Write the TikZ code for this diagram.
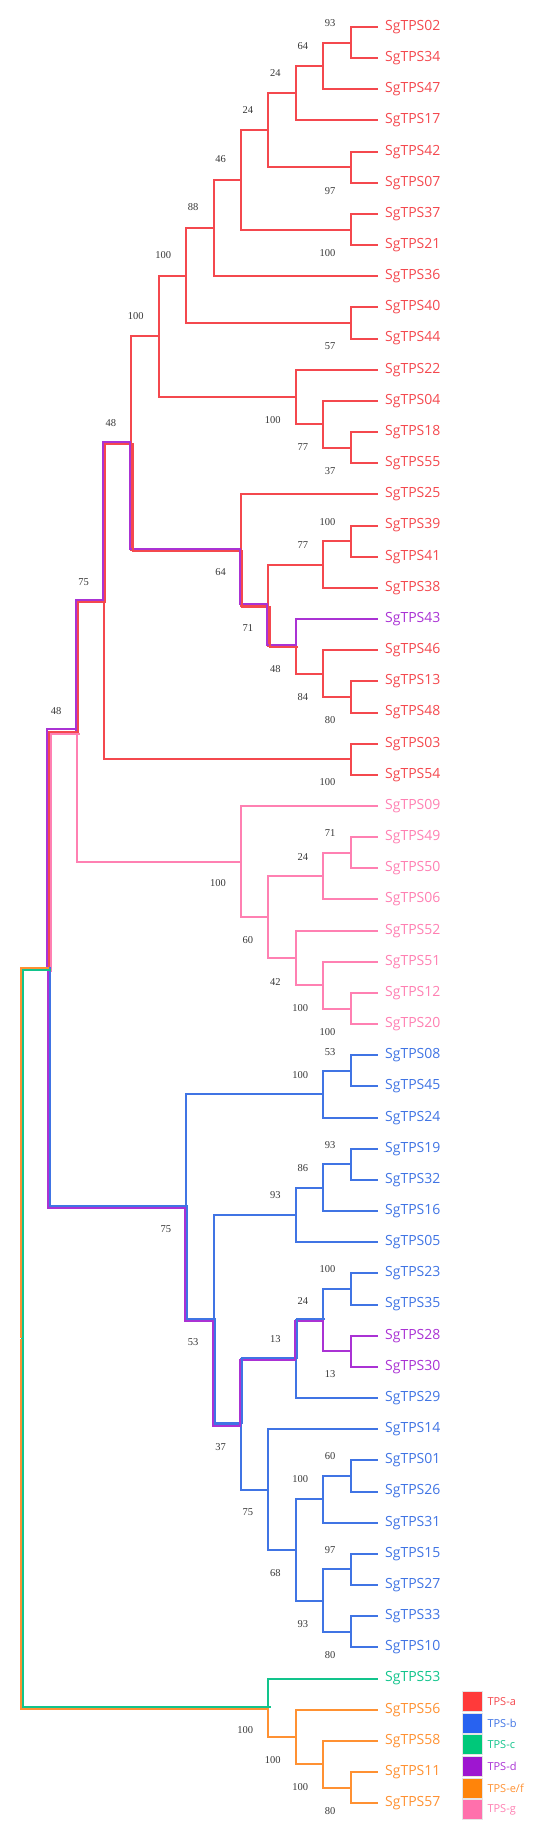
\documentclass[tikz,border=0pt]{standalone}
\usepackage{fontspec}
\setmainfont{Open Sans}
\newfontfamily\bootfont{Liberation Serif}
\usetikzlibrary{positioning}
\definecolor{TPSa}{RGB}{244,72,78}
\definecolor{TPSb}{RGB}{64,116,228}
\definecolor{TPSc}{RGB}{18,196,140}
\definecolor{TPSd}{RGB}{170,50,212}
\definecolor{TPSef}{RGB}{255,145,50}
\definecolor{TPSg}{RGB}{255,128,178}
\definecolor{KeyA}{RGB}{255,58,58}
\definecolor{KeyB}{RGB}{40,98,240}
\definecolor{KeyC}{RGB}{0,200,122}
\definecolor{KeyD}{RGB}{158,22,208}
\definecolor{KeyEF}{RGB}{255,132,10}
\definecolor{KeyG}{RGB}{255,112,172}
\definecolor{BootGray}{RGB}{55,55,55}

\begin{document}
\begin{tikzpicture}[x=1pt,y=-1pt,
    branch/.style={line width=2pt},
    leaf/.style={anchor=west, inner xsep=7pt, inner ysep=0pt, font=\fontsize{14}{14}\selectfont},
    boot/.style={anchor=east, inner sep=0pt, text=BootGray, font=\bootfont\fontsize{10.5}{10.5}\selectfont},
    legbox/.style={minimum width=20pt, minimum height=20pt, inner sep=0pt, draw=white!80!gray, line width=0.6pt},
    legtext/.style={inner sep=0pt, font=\fontsize{11}{11}\selectfont}]
  \useasboundingbox (0,0) rectangle (551,1836);

  % leaves
  \foreach \k/\id/\col in {0/02/TPSa,1/34/TPSa,2/47/TPSa,3/17/TPSa,4/42/TPSa,5/07/TPSa,
      6/37/TPSa,7/21/TPSa,8/36/TPSa,9/40/TPSa,10/44/TPSa,11/22/TPSa,12/04/TPSa,
      13/18/TPSa,14/55/TPSa,15/25/TPSa,16/39/TPSa,17/41/TPSa,18/38/TPSa,19/43/TPSd,
      20/46/TPSa,21/13/TPSa,22/48/TPSa,23/03/TPSa,24/54/TPSa,25/09/TPSg,26/49/TPSg,
      27/50/TPSg,28/06/TPSg,29/52/TPSg,30/51/TPSg,31/12/TPSg,32/20/TPSg,33/08/TPSb,
      34/45/TPSb,35/24/TPSb,36/19/TPSb,37/32/TPSb,38/16/TPSb,39/05/TPSb,40/23/TPSb,
      41/35/TPSb,42/28/TPSd,43/30/TPSd,44/29/TPSb,45/14/TPSb,46/01/TPSb,47/26/TPSb,
      48/31/TPSb,49/15/TPSb,50/27/TPSb,51/33/TPSb,52/10/TPSb,53/53/TPSc,54/56/TPSef,
      55/58/TPSef,56/11/TPSef,57/57/TPSef}
    \node[leaf, text=\col] (s\id) at (378,{27+31.16*\k}) {SgTPS\id};

  % internal nodes, children first
  \foreach \nm/\lv/\y/\ca/\cola/\cb/\colb in {
      a1/1/42.6/s02.west/TPSa/s34.west/TPSa, a2/2/66.0/a1/TPSa/s47.west/TPSa,
      a3/3/93.2/a2/TPSa/s17.west/TPSa, a4/1/167.2/s42.west/TPSa/s07.west/TPSa,
      a5/4/130.2/a3/TPSa/a4/TPSa, a6/1/229.6/s37.west/TPSa/s21.west/TPSa,
      a7/5/179.9/a5/TPSa/a6/TPSa, a8/6/228.1/a7/TPSa/s36.west/TPSa,
      a9/1/323.0/s40.west/TPSa/s44.west/TPSa, a10/7/275.6/a8/TPSa/a9/TPSa,
      a11/1/447.7/s18.west/TPSa/s55.west/TPSa, a12/2/424.3/s04.west/TPSa/a11/TPSa,
      a13/3/397.1/s22.west/TPSa/a12/TPSa, a14/8/336.4/a10/TPSa/a13/TPSa,
      b1/1/541.2/s39.west/TPSa/s41.west/TPSa, b2/2/564.6/b1/TPSa/s38.west/TPSa,
      b3/1/697.0/s13.west/TPSa/s48.west/TPSa, b4/2/673.6/s46.west/TPSa/b3/TPSa,
      b5/3/646.3/s43.west/TPSd/b4/TPSa, b6/4/605.5/b2/TPSa/b5/TPSa,
      b7/5/550.0/s25.west/TPSa/b6/TPSa, c1/9/443.2/a14/TPSa/b7/TPSa,
      c2/1/759.3/s03.west/TPSa/s54.west/TPSa, c3/10/601.3/c1/TPSa/c2/TPSa,
      g1/1/852.8/s49.west/TPSg/s50.west/TPSg, g2/2/876.2/g1/TPSg/s06.west/TPSg,
      g3/1/1008.6/s12.west/TPSg/s20.west/TPSg, g4/2/985.2/s51.west/TPSg/g3/TPSg,
      g5/3/957.9/s52.west/TPSg/g4/TPSg, g6/4/917.1/g2/TPSg/g5/TPSg,
      g7/5/861.6/s09.west/TPSg/g6/TPSg, c4/11/731.5/c3/TPSa/g7/TPSg,
      h1/1/1070.9/s08.west/TPSb/s45.west/TPSb, h2/2/1094.3/h1/TPSb/s24.west/TPSb,
      h3/1/1164.4/s19.west/TPSb/s32.west/TPSb, h4/2/1187.8/h3/TPSb/s16.west/TPSb,
      h5/3/1215.0/h4/TPSb/s05.west/TPSb, h6/1/1289.0/s23.west/TPSb/s35.west/TPSb,
      h7/1/1351.3/s28.west/TPSd/s30.west/TPSd, h8/2/1320.2/h6/TPSb/h7/TPSd,
      h9/3/1359.1/h8/TPSb/s29.west/TPSb, h10/1/1476.0/s01.west/TPSb/s26.west/TPSb,
      h11/2/1499.4/h10/TPSb/s31.west/TPSb, h12/1/1569.4/s15.west/TPSb/s27.west/TPSb,
      h13/1/1631.8/s33.west/TPSb/s10.west/TPSb, h14/2/1600.6/h12/TPSb/h13/TPSb,
      h15/3/1550.0/h11/TPSb/h14/TPSb, h16/4/1489.6/s14.west/TPSb/h15/TPSb,
      h17/5/1424.4/h9/TPSb/h16/TPSb, h18/6/1319.7/h5/TPSb/h17/TPSb,
      h19/7/1207.0/h2/TPSb/h18/TPSb, c5/12/969.3/c4/TPSa/h19/TPSb,
      e1/1/1787.6/s11.west/TPSef/s57.west/TPSef, e2/2/1764.2/s58.west/TPSef/e1/TPSef,
      e3/3/1736.9/s56.west/TPSef/e2/TPSef, e4/4/1707.7/s53.west/TPSc/e3/TPSef,
      root/13/1338.5/c5/TPSc/e4/TPSc}
  {
    \coordinate (\nm) at ({378-27.4*\lv},\y);
    \draw[branch, \cola] (\nm) |- (\ca);
    \draw[branch, \colb] (\nm) |- (\cb);
  }

  % shared branches, one offset line per group
  \foreach \p/\ch/\col/\sx/\sy in {
      c4/c3/TPSd/-1.1/-1.1, c4/c3/TPSa/1.1/1.1,
      c3/c1/TPSd/-1.1/-1.1, c3/c1/TPSa/1.1/1.1,
      c1/b7/TPSd/-1.1/-1.1, c1/b7/TPSa/1.1/1.1,
      b7/b6/TPSd/-1.1/-1.1, b7/b6/TPSa/1.1/1.1,
      b6/b5/TPSd/-1.1/-1.1, b6/b5/TPSa/1.1/1.1,
      c5/c4/TPSd/-2.1/-2.1, c5/c4/TPSa/0/0, c5/c4/TPSg/2.1/2.1,
      c5/h19/TPSd/-1.1/1.1, c5/h19/TPSb/1.1/-1.1,
      h19/h18/TPSd/-1.1/1.1, h19/h18/TPSb/1.1/-1.1,
      h18/h17/TPSd/-1.1/1.1, h18/h17/TPSb/1.1/-1.1,
      h17/h9/TPSd/-1.1/1.1, h17/h9/TPSb/1.1/-1.1,
      h9/h8/TPSd/-1.1/1.1, h9/h8/TPSb/1.1/-1.1,
      root/c5/TPSef/-1.1/-1.1, root/c5/TPSc/1.1/1.1,
      root/e4/TPSef/-1.1/1.1, root/e4/TPSc/1.1/-1.1}
    \draw[branch, line cap=rect, \col] ([shift={(\sx,\sy)}]\p) |- ([shift={(\sx,\sy)}]\ch);

  % bootstrap values
  \foreach \nm/\lv/\by/\bv in {a1/1/23/93, a2/2/46/64, a3/3/73/24, a5/4/110/24,
      a7/5/159/46, a4/1/191/97, a8/6/207/88, a6/1/253/100, a10/7/255/100,
      a14/8/316/100, a9/1/346/57, a13/3/420/100, c1/9/423/48, a12/2/447/77,
      a11/1/471/37, b1/1/522/100, b2/2/545/77, b7/5/572/64, c3/10/582/75,
      b6/4/628/71, b5/3/669/48, b4/2/697/84, c4/11/711/48, b3/1/720/80,
      c2/1/782/100, g1/1/833/71, g2/2/857/24, g7/5/883/100, g6/4/940/60,
      g5/3/982/42, g4/2/1008/100, g3/1/1032/100, h1/1/1052/53, h2/2/1075/100,
      h3/1/1145/93, h4/2/1168/86, h5/3/1195/93, h19/7/1229/75, h6/1/1269/100,
      h8/2/1301/24, h9/3/1339/13, h18/6/1342/53, h7/1/1374/13, h17/5/1447/37,
      h10/1/1456/60, h11/2/1479/100, h16/4/1512/75, h12/1/1550/97, h15/3/1573/68,
      h14/2/1624/93, h13/1/1655/80, e4/4/1730/100, e3/3/1760/100, e2/2/1787/100,
      e1/1/1811/80}
    \node[boot] (bs\nm) at ({363-27.4*\lv},\by) {\bv};

  % legend
  \node[legbox, fill=KeyA] (keyA) at (472,1701.2) {};
  \node[legbox, fill=KeyB, below=1.1pt of keyA] (keyB) {};
  \node[legbox, fill=KeyC, below=1.1pt of keyB] (keyC) {};
  \node[legbox, fill=KeyD, below=1.1pt of keyC] (keyD) {};
  \node[legbox, fill=KeyEF, below=1.1pt of keyD] (keyEF) {};
  \node[legbox, fill=KeyG, below=1.1pt of keyEF] (keyG) {};
  \node[legtext, text=TPSa, right=5pt of keyA] (txtA) {TPS-a};
  \node[legtext, text=TPSb, right=5pt of keyB] (txtB) {TPS-b};
  \node[legtext, text=TPSc, right=5pt of keyC] (txtC) {TPS-c};
  \node[legtext, text=TPSd, right=5pt of keyD] (txtD) {TPS-d};
  \node[legtext, text=TPSef, right=5pt of keyEF] (txtEF) {TPS-e/f};
  \node[legtext, text=TPSg, right=5pt of keyG] (txtG) {TPS-g};
\end{tikzpicture}
\end{document}
